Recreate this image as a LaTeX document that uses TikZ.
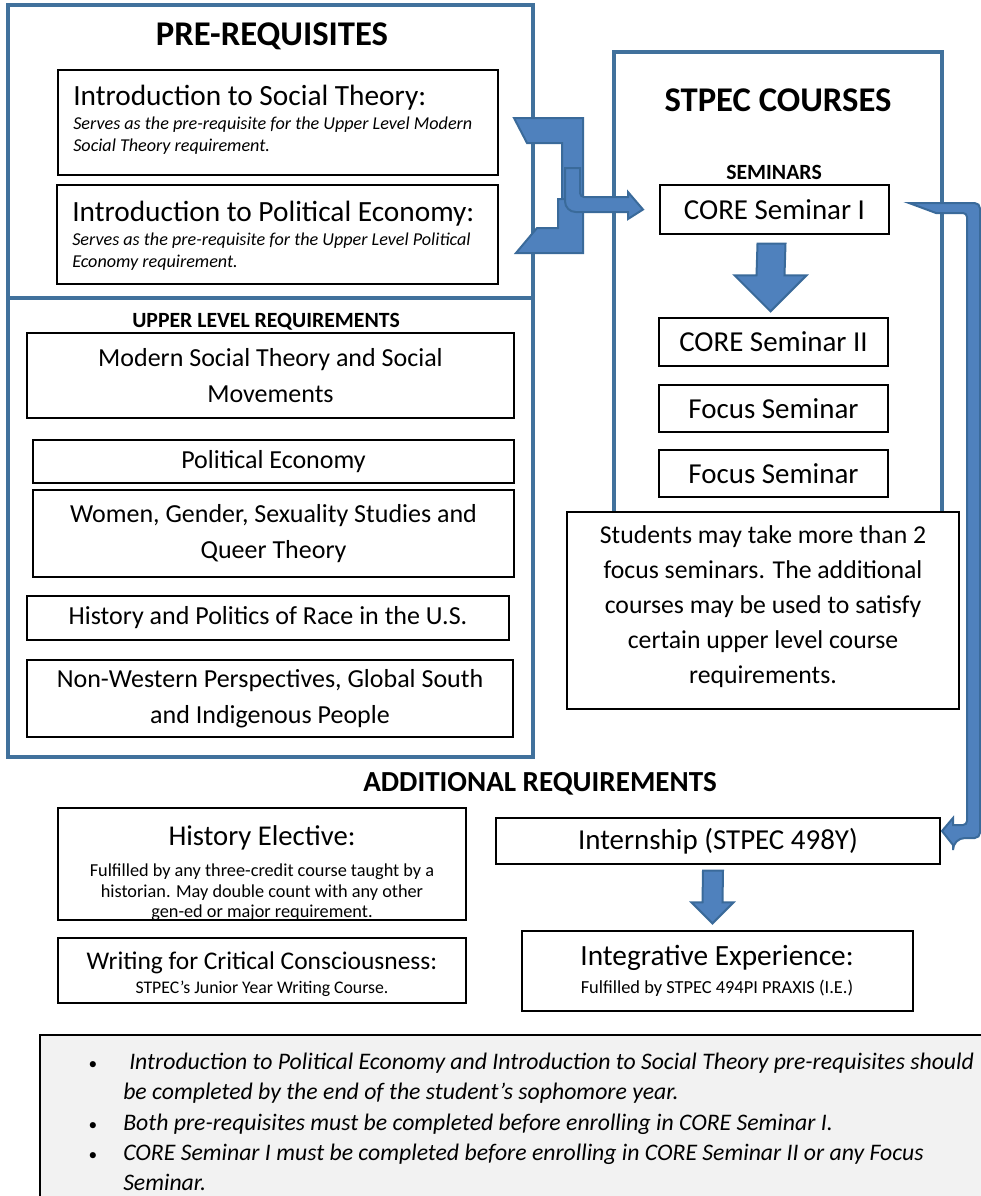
\documentclass[tikz,border=0pt]{standalone}
\usepackage{fontspec}
\setmainfont{Carlito}
\usetikzlibrary{calc}
\definecolor{grpblue}{HTML}{41719C}
\definecolor{arrfill}{HTML}{4F81BD}
\definecolor{arrline}{HTML}{3A6A9A}
\definecolor{notefill}{HTML}{F2F2F2}
\newcommand\fsz[2]{\fontsize{#1}{#2}\selectfont}
\begin{document}
\begin{tikzpicture}[x=0.75pt,y=-0.75pt,
  sz/.style 2 args={minimum width=#1*0.75pt, minimum height=#2*0.75pt},
  grp/.style={draw=grpblue, line width=2.4pt, inner sep=0pt},
  box/.style={draw=black, line width=1pt, fill=white, inner sep=0pt, align=center},
  bigtitle/.style={font=\fsz{26pt}{30pt}\bfseries},
  smalltitle/.style={font=\fsz{16.3pt}{19pt}\bfseries},
  ultext/.style={font=\fsz{19.5pt}{27pt}},
  semtext/.style={font=\fsz{21.7pt}{26pt}},
  subit/.style={font=\fsz{13.6pt}{16pt}\itshape, anchor=base west, inner sep=0pt},
  bigarrow/.style={fill=arrfill, draw=arrline, line width=1.5pt, line join=miter},
  note/.style={font=\fsz{17.8pt}{22pt}\itshape, anchor=base west, inner sep=0pt},
  bul/.style={font=\fsz{13pt}{16pt}, anchor=base, inner sep=0pt}
]
\useasboundingbox (0,0) rectangle (981,1196);
\clip (0,0) rectangle (981,1196);
\fill[white] (0,0) rectangle (981,1196);

% ---------- PRE-REQUISITES ----------
\node[grp, sz={525}{293}] (pre) at (270.5,151.5) {};
\node[bigtitle] (pret) at (272,36) {PRE-REQUISITES};
\node[box, sz={440}{105}] (ist) at (278,122.5) {};
\node[anchor=base west, inner sep=0pt, font=\fsz{22pt}{26pt}] (istt) at (73,105) {Introduction to Social Theory:};
\node[subit] (ists1) at (73,129.5) {Serves as the pre-requisite for the Upper Level Modern};
\node[subit] (ists2) at (73,151.5) {Social Theory requirement.};
\node[box, sz={441}{99}] (ipe) at (277.5,234.5) {};
\node[anchor=base west, inner sep=0pt, font=\fsz{22pt}{26pt}] (ipet) at (72,221) {Introduction to Political Economy:};
\node[subit] (ipes1) at (72,245) {Serves as the pre-requisite for the Upper Level Political};
\node[subit] (ipes2) at (72,267) {Economy requirement.};

% ---------- UPPER LEVEL ----------
\node[grp, sz={525}{459}] (upl) at (270.5,527.5) {};
\node[smalltitle] (uplt) at (266,322) {UPPER LEVEL REQUIREMENTS};
\node[box, ultext, sz={487}{85}] (msm) at (270.5,375.5) {Modern Social Theory and Social\\Movements};
\node[box, ultext, sz={481}{43}] (pe) at (273.5,461.5) {Political Economy};
\node[box, ultext, sz={481}{87}] (wg) at (273.5,533.5) {Women, Gender, Sexuality Studies and\\Queer Theory};
\node[box, ultext, sz={482}{44}] (hr) at (268,618) {History and Politics of Race in the U.S.};
\node[box, ultext, sz={486}{77}] (nw) at (270,698.5) {Non-Western Perspectives, Global South\\and Indigenous People};

% ---------- STPEC COURSES ----------
\node[grp, sz={328}{560}] (stp) at (778,332) {};
\node[bigtitle] (stpt) at (778,100) {STPEC COURSES};
\node[smalltitle] (semt) at (774,172) {SEMINARS};
\node[box, semtext, sz={229}{49}] (cs1) at (774.5,209.5) {CORE Seminar I};
\node[box, semtext, sz={229}{48}] (cs2) at (773.5,342) {CORE Seminar II};
\node[box, semtext, sz={229}{47}] (fs1) at (773.5,408.5) {Focus Seminar};
\node[box, semtext, sz={229}{47}] (fs2) at (773.5,473.5) {Focus Seminar};
\node[box, sz={392}{197}] (stud) at (763,610.5) {};
\node[align=center, inner sep=0pt, font=\fsz{19.3pt}{26.3pt}] (studt) at ($(stud.center)+(0,-4)$) {Students may take more than 2\\focus seminars. The additional\\courses may be used to satisfy\\certain upper level course\\requirements.};

% arrow CORE I -> CORE II
\coordinate (d1) at ($(cs1.south)+(-3,9)$);
\coordinate (d2) at ($(cs2.north)+(-3,-6)$);
\draw[bigarrow] ($(d1)+(-14,0)$) -- ($(d1)+(14,0)$) -- ($(d2)+(14,-36)$) -- ($(d2)+(36,-36)$) -- (d2) -- ($(d2)+(-36,-36)$) -- ($(d2)+(-14,-36)$) -- cycle;

% ---------- merged connector: pre-requisites -> CORE Seminar I ----------
\coordinate (ltip) at (cs1.west -| 643,0);
\draw[bigarrow] (514,118) -- (583,118) -- (583,206) -- (562,206) -- (562,143) -- (527,143) -- cycle;
\draw[bigarrow] (516,253) -- (583,253) -- (583,199) -- (558,199) -- (558,228) -- (537,228) -- cycle;
\draw[bigarrow] (565,168) -- (580,168) [rounded corners=3pt] -- (580,197) [sharp corners] -- (628,197) -- (628,192) -- (ltip) -- (628,219) -- (628,212) [rounded corners=8pt] -- (565,212) [sharp corners] -- (565,168) -- cycle;

% ---------- connector CORE Seminar I -> Internship ----------
\coordinate (rtip) at (942,831);
\draw[bigarrow] (909,203) [rounded corners=4pt] -- (980,203) -- (980,838) [rounded corners=9pt] -- (953,838) [sharp corners] -- (953,845) -- (rtip) -- (953,818) -- (953,825) [rounded corners=3pt] -- (967,825) -- (967,213) [sharp corners] -- (936,213) -- cycle;

% ---------- ADDITIONAL REQUIREMENTS ----------
\node[font=\fsz{21.8pt}{26pt}\bfseries] (addt) at (540,784) {ADDITIONAL REQUIREMENTS};
\node[box, sz={408}{112}] (he) at (262,864) {};
\begin{scope}
\clip (59,809) rectangle (465,918);
\node[anchor=base, inner sep=0pt, font=\fsz{21.5pt}{24pt}] (het) at (262,845) {History Elective:};
\node[anchor=base, inner sep=0pt, font=\fsz{13.7pt}{16pt}] (hes1) at (262,876) {Fulfilled by any three-credit course taught by a};
\node[anchor=base, inner sep=0pt, font=\fsz{13.7pt}{16pt}] (hes2) at (262,897) {historian. May double count with any other};
\node[anchor=base, inner sep=0pt, font=\fsz{13.7pt}{16pt}] (hes3) at (262,917) {gen-ed or major requirement.};
\end{scope}
\node[box, sz={408}{65}] (wcc) at (262,970.5) {};
\node[anchor=base, inner sep=0pt, font=\fsz{19.1pt}{22pt}] (wcct) at (262,969) {Writing for Critical Consciousness:};
\node[anchor=base, inner sep=0pt, font=\fsz{13.3pt}{16pt}] (wccs) at (262,993) {STPEC’s Junior Year Writing Course.};

\node[box, semtext, sz={444}{46}] (int) at (718,841) {Internship (STPEC 498Y)};
\node[box, sz={391}{80}] (ie) at (717.5,971) {};
\node[anchor=base, inner sep=0pt, font=\fsz{22pt}{26pt}] (iet) at (717,965) {Integrative Experience:};
\node[anchor=base, inner sep=0pt, font=\fsz{13.8pt}{16pt}] (ies) at (717,993) {Fulfilled by STPEC 494PI PRAXIS (I.E.)};

% arrow Internship -> Integrative Experience
\coordinate (e1) at ($(int.south)+(-5,6)$);
\coordinate (e2) at ($(ie.north)+(-5,-7)$);
\draw[bigarrow] ($(e1)+(-10,0)$) -- ($(e1)+(10,0)$) -- ($(e2)+(10,-21)$) -- ($(e2)+(21,-21)$) -- (e2) -- ($(e2)+(-21,-21)$) -- ($(e2)+(-10,-21)$) -- cycle;

% ---------- notes ----------
\draw[line width=2.2pt, fill=notefill] (40,1035) rectangle (995,1210);
\node[bul] (b1) at (93,1069) {•};
\node[note] (n1) at (129,1069) {Introduction to Political Economy and Introduction to Social Theory pre-requisites should};
\node[note] (n2) at (123,1099) {be completed by the end of the student’s sophomore year.};
\node[bul] (b2) at (93,1130) {•};
\node[note] (n3) at (123,1130) {Both pre-requisites must be completed before enrolling in CORE Seminar I.};
\node[bul] (b3) at (93,1160) {•};
\node[note] (n4) at (123,1160) {CORE Seminar I must be completed before enrolling in CORE Seminar II or any Focus};
\node[note] (n5) at (123,1190) {Seminar.};
\end{tikzpicture}
\end{document}
